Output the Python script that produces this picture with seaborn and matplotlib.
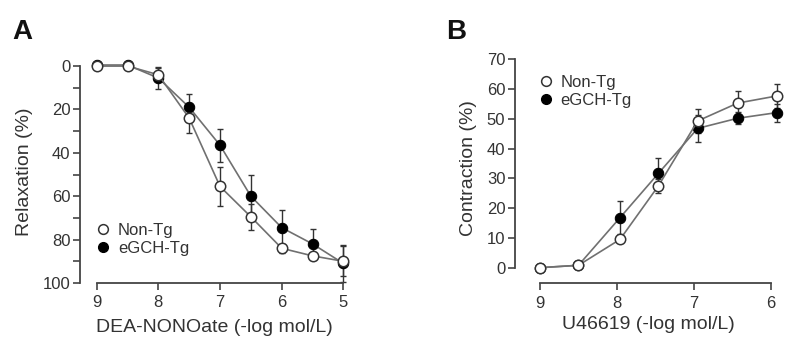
import numpy as np
import pandas as pd
import matplotlib
matplotlib.use("Agg")
import matplotlib.pyplot as plt
import seaborn as sns
from matplotlib.lines import Line2D

# Panel A: DEA-NONOate relaxation
dea_x = [9, 8.5, 8, 7.5, 7, 6.5, 6, 5.5, 5]
dea_nontg = [0, 0, 4, 24, 55.5, 69.5, 84, 87.5, 90]
dea_nontg_err = [1, 1, 3, 7, 9, 6, 2, 1.5, 7]
dea_egch = [-0.5, -0.5, 5.5, 19, 36.5, 60, 74.5, 82, 91]
dea_egch_err = [1, 1, 5, 6, 7.5, 10, 8, 7, 8.5]

# Panel B: U46619 contraction
u_x = [9, 8.5, 7.96, 7.46, 6.95, 6.43, 5.92]
u_nontg = [0, 0.8, 9.5, 27.5, 49.3, 55.3, 57.7]
u_nontg_err = [0.5, 0.5, 1, 2.3, 4, 4, 4]
u_egch = [0, 0.8, 16.8, 31.7, 46.8, 50.2, 52.1]
u_egch_err = [0.5, 0.5, 5.5, 5.3, 4.5, 2, 3]

labels = ["Non-Tg", "eGCH-Tg"]

sns.set_style("ticks")
plt.rcParams["font.family"] = ["Liberation Sans", "DejaVu Sans"]
txt = "#333333"
line_c = "#707070"
edge_c = "#333333"

fig = plt.figure(figsize=(8, 3.48), dpi=100)
axA = fig.add_axes([0.1, 0.1868, 0.337, 0.642])
axB = fig.add_axes([0.6438, 0.186, 0.334, 0.6606])


def draw(ax, x, y_open, e_open, y_fill, e_fill):
    df_f = pd.DataFrame({"x": x, "y": y_fill})
    df_o = pd.DataFrame({"x": x, "y": y_open})
    ax.errorbar(x, y_fill, yerr=e_fill, fmt="none", ecolor=edge_c,
                elinewidth=1.0, capsize=2.5, capthick=1.0, zorder=2, clip_on=False)
    ax.errorbar(x, y_open, yerr=e_open, fmt="none", ecolor=edge_c,
                elinewidth=1.0, capsize=2.5, capthick=1.0, zorder=2, clip_on=False)
    sns.lineplot(data=df_f, x="x", y="y", ax=ax, color=line_c, lw=1.2,
                 marker="o", ms=7.5, markerfacecolor="black",
                 markeredgecolor="black", sort=False, zorder=3, clip_on=False)
    sns.lineplot(data=df_o, x="x", y="y", ax=ax, color=line_c, lw=1.2,
                 marker="o", ms=7.5, markerfacecolor="white",
                 markeredgecolor=edge_c, markeredgewidth=1.1, sort=False,
                 zorder=4, clip_on=False)


def style(ax):
    sns.despine(ax=ax)
    for s in ["left", "bottom"]:
        ax.spines[s].set_color("#444444")
        ax.spines[s].set_linewidth(1.3)
    ax.tick_params(axis="both", which="both", direction="out", length=5,
                   width=1.2, color="#444444", labelsize=12,
                   labelcolor=txt, pad=2)
    ax.tick_params(axis="x", pad=4)


# Panel A
draw(axA, dea_x, dea_nontg, dea_nontg_err, dea_egch, dea_egch_err)
axA.set_xlim(9.27, 4.9)
axA.set_ylim(100, -3)
axA.spines["left"].set_bounds(0, 100)
axA.spines["bottom"].set_bounds(9, 5)
axA.set_xticks([9, 8, 7, 6, 5])
axA.set_yticks([0, 20, 40, 60, 80, 100])
axA.set_yticks([10, 30, 50, 70, 90], minor=True)
style(axA)
axA.set_xlabel("DEA-NONOate (-log mol/L)", fontsize=14, color=txt, labelpad=6)
axA.set_ylabel("Relaxation (%)", fontsize=14, color=txt, labelpad=7)

# Panel B
draw(axB, u_x, u_nontg, u_nontg_err, u_egch, u_egch_err)
axB.set_xlim(9.325, 5.85)
axB.set_ylim(-5.24, 72)
axB.spines["left"].set_bounds(0, 70)
axB.spines["bottom"].set_bounds(9, 6)
axB.set_xticks([9, 8, 7, 6])
axB.set_yticks(np.arange(0, 71, 10))
style(axB)
axB.set_xlabel("U46619 (-log mol/L)", fontsize=14, color=txt, labelpad=4)
axB.set_ylabel("Contraction (%)", fontsize=14, color=txt, labelpad=7)

handles = [
    Line2D([], [], ls="none", marker="o", ms=7, mfc="white", mec=edge_c, mew=1.1),
    Line2D([], [], ls="none", marker="o", ms=7, mfc="black", mec="black"),
]
for ax, anchor in [(axA, (0.035, 0.30)), (axB, (0.065, 0.935))]:
    leg = ax.legend(handles, labels, loc="upper left", bbox_to_anchor=anchor,
                    frameon=False, fontsize=12, handlelength=0.8,
                    handletextpad=0.5, labelspacing=0.2, borderaxespad=0)
    for t in leg.get_texts():
        t.set_color(txt)

fig.text(0.015, 0.945, "A", fontsize=20, fontweight="bold", color="#111111", va="top")
fig.text(0.558, 0.945, "B", fontsize=20, fontweight="bold", color="#111111", va="top")

fig.savefig("out.png", dpi=100)
